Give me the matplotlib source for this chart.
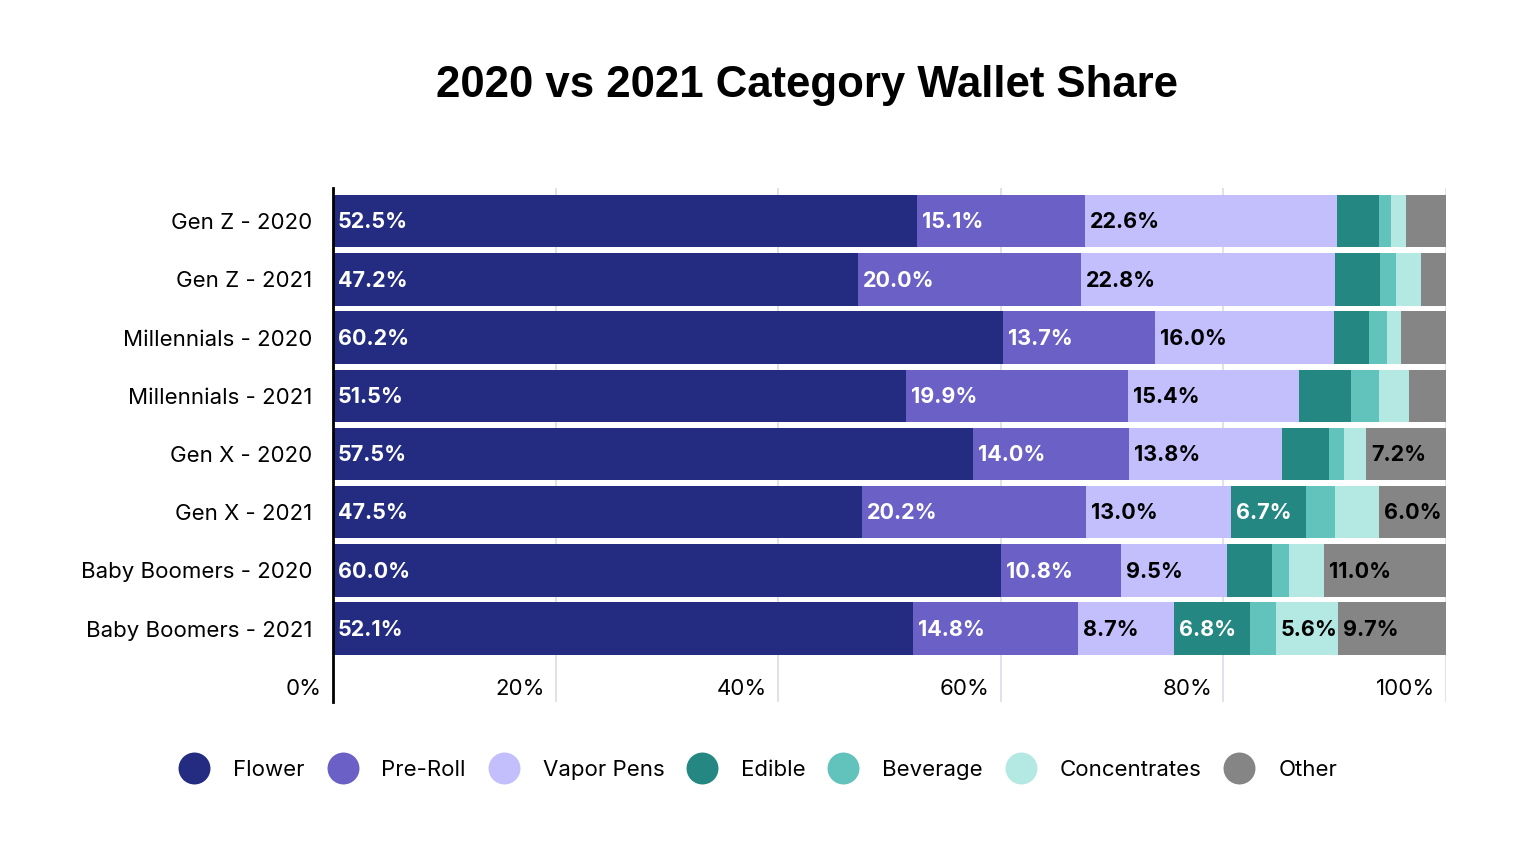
import matplotlib.pyplot as plt
from matplotlib.lines import Line2D

# Chart data
groups = [
    "Gen Z - 2020",
    "Gen Z - 2021",
    "Millennials - 2020",
    "Millennials - 2021",
    "Gen X - 2020",
    "Gen X - 2021",
    "Baby Boomers - 2020",
    "Baby Boomers - 2021",
]
categories = ["Flower", "Pre-Roll", "Vapor Pens", "Edible", "Beverage", "Concentrates", "Other"]

flower = [52.5, 47.2, 60.2, 51.5, 57.5, 47.5, 60.0, 52.1]
pre_roll = [15.1, 20.0, 13.7, 19.9, 14.0, 20.2, 10.8, 14.8]
vapor_pens = [22.6, 22.8, 16.0, 15.4, 13.8, 13.0, 9.5, 8.7]
edible = [3.8, 4.1, 3.2, 4.7, 4.2, 6.7, 4.1, 6.8]
beverage = [1.1, 1.4, 1.6, 2.5, 1.3, 2.6, 1.5, 2.3]
concentrates = [1.3, 2.3, 1.3, 2.7, 2.0, 4.0, 3.1, 5.6]
other = [3.6, 2.2, 4.0, 3.3, 7.2, 6.0, 11.0, 9.7]

x_ticks = [0, 20, 40, 60, 80, 100]
x_tick_labels = ["0%", "20%", "40%", "60%", "80%", "100%"]

colors = ["#232c80", "#6a60c6", "#c3bffd", "#248781", "#62c3bc", "#b3e8e3", "#858585"]
text_colors = ["white", "white", "black", "white", "black", "black", "black"]

series = [flower, pre_roll, vapor_pens, edible, beverage, concentrates, other]

FONT = "Inter"

fig = plt.figure(figsize=(15.23, 8.5), dpi=100)
ax = fig.add_axes([0.2186, 0.1741, 0.7308, 0.6047])

y = list(range(len(groups)))
left = [0.0] * len(groups)
for vals, col, tcol in zip(series, colors, text_colors):
    ax.barh(y, vals, left=left, height=0.9, color=col, edgecolor="none", zorder=2)
    for i, v in enumerate(vals):
        if v >= 5:
            ax.text(left[i] + 0.45, y[i] + 0.02, f"{v:.1f}%", ha="left", va="center",
                    color=tcol, fontsize=15.5, fontweight="bold", family=FONT, zorder=3)
    left = [l + v for l, v in zip(left, vals)]

ax.set_xlim(0, 100)
ax.set_ylim(8.26, -0.57)
ax.set_yticks(y)
ax.set_yticklabels(groups, family=FONT, fontsize=16)
ax.tick_params(axis="y", length=0, pad=15)
ax.set_xticks([])

# vertical gridlines
for t in x_ticks[1:]:
    ax.axvline(t, color="#dcdce8", lw=1.2, zorder=1)

# x tick labels sit inside the bottom strip of the axes
for t, lab in zip(x_ticks, x_tick_labels):
    ax.text(t - 1.0, 8.03, lab, ha="right", va="center", fontsize=16, family=FONT)

for s in ["top", "right", "bottom"]:
    ax.spines[s].set_visible(False)
ax.spines["left"].set_linewidth(2)
ax.spines["left"].set_color("black")
ax.spines["left"].set_zorder(4)

fig.text(0.53, 0.9, "2020 vs 2021 Category Wallet Share", ha="center", va="center",
         fontsize=31.5, fontweight="bold", family="Liberation Sans")

handles = [Line2D([], [], marker="o", linestyle="none", markersize=23,
                  markerfacecolor=c, markeredgecolor="none") for c in colors]
fig.legend(handles, categories, loc="center", bbox_to_anchor=(0.4955, 0.094), ncol=7,
           frameon=False, prop={"family": FONT, "size": 16},
           handletextpad=0.75, columnspacing=0.7)

fig.savefig("out.png", dpi=100)
